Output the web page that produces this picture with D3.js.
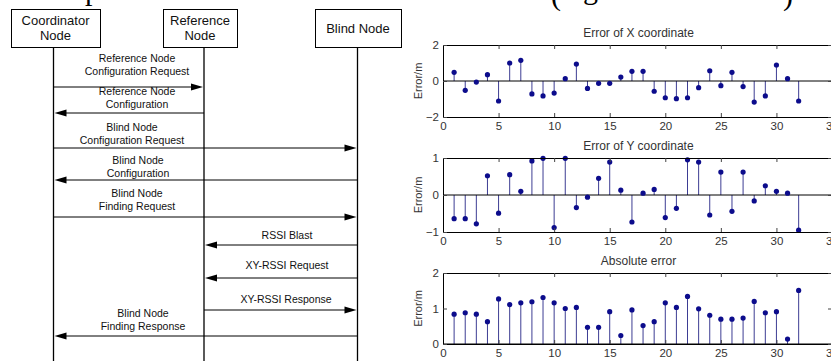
<!DOCTYPE html>
<html>
<head>
<meta charset="utf-8">
<script src="https://cdn.jsdelivr.net/npm/d3@7"></script>
<style>
  html, body { margin: 0; padding: 0; background: #fff; }
  svg { display: block; }
</style>
</head>
<body>
<div id="chart"></div>
<script>
// ---- sequence diagram data ----
const nodes = ["coord", "ref", "blind"];
const nodeLabels = [["Coordinator", "Node"], ["Reference", "Node"], ["Blind Node"]];
const msgFrom = ["coord", "ref", "coord", "blind", "coord", "blind", "blind", "ref", "blind"];
const msgTo = ["ref", "coord", "blind", "coord", "blind", "ref", "ref", "blind", "coord"];
const msgLabels = [
  ["Reference Node", "Configuration Request"],
  ["Reference Node", "Configuration"],
  ["Blind Node", "Configuration Request"],
  ["Blind Node", "Configuration"],
  ["Blind Node", "Finding Request"],
  ["RSSI Blast"],
  ["XY-RSSI Request"],
  ["XY-RSSI Response"],
  ["Blind Node", "Finding Response"]
];

// ---- stem plot data (index 1..32) ----
const xError = [0.48, -0.52, -0.06, 0.35, -1.11, 1.0, 1.15, -0.72, -0.83, -0.67, 0.13, 0.94,
  -0.41, -0.13, -0.13, 0.22, 0.54, 0.54, -0.57, -0.93, -0.98, -0.93, -0.37, 0.57,
  -0.26, 0.48, -0.31, -1.17, -0.83, 0.89, 0.13, -1.11];
const yError = [-0.64, -0.64, -0.78, 0.52, -0.49, 0.55, 0.10, 0.92, 0.99, -0.88, 0.99, -0.34,
  -0.06, 0.45, 0.89, 0.13, -0.73, 0.05, 0.15, -0.61, -0.36, 0.95, 0.89, -0.54,
  0.62, -0.44, 0.62, -0.16, 0.25, 0.10, 0.05, -0.95];
const absError = [0.84, 0.88, 0.84, 0.63, 1.27, 1.11, 1.16, 1.19, 1.31, 1.16, 1.00, 1.03,
  0.47, 0.47, 0.91, 0.24, 0.96, 0.52, 0.63, 1.16, 1.03, 1.34, 0.99, 0.81,
  0.70, 0.70, 0.73, 1.20, 0.88, 0.91, 0.14, 1.51];
const panelTitles = ["Error of X coordinate", "Error of Y coordinate", "Absolute error"];
const panelDomains = [[-2, 2], [-1, 1], [0, 2]];
const panelYTicks = [[-2, 0, 2], [-1, 0, 1], [0, 1, 2]];
const xTicks = [0, 5, 10, 15, 20, 25, 30, 35];

const W = 831, H = 361;
const svg = d3.select("#chart").append("svg").attr("width", W).attr("height", H);

// clipped line of page text above the figure (only the descenders show)
const headerGlyphs = [["p", 85, 0], ["(", 551, 5], ["g", 583, -1], [")", 783, 5]];
svg.selectAll(".hdr").data(headerGlyphs).enter().append("text")
  .attr("class", "hdr")
  .attr("x", d => d[1]).attr("y", d => d[2])
  .style("font-family", "Liberation Serif, Times New Roman, serif")
  .style("font-size", "30px")
  .attr("fill", "#000")
  .text(d => d[0]);

// ---- sequence diagram layout ----
const lifeX = { coord: 53.5, ref: 204, blind: 357.5 };
const boxes = [{ x: 11, w: 89 }, { x: 163, w: 74 }, { x: 315, w: 86 }];
const boxTop = 9, boxH = 38;
const arrowY = [87, 113, 148, 180, 217, 245, 278, 310, 336];
const labelY = [58, 91, 127, 160, 193, 235, 265, 299, 313];
const labelX = [137, 137, 132, 138, 137, 287, 287, 286, 143];

const seq = svg.append("g").attr("class", "sequence");

seq.selectAll(".life").data(nodes).enter().append("line")
  .attr("class", "life")
  .attr("x1", d => lifeX[d]).attr("x2", d => lifeX[d])
  .attr("y1", boxTop + boxH).attr("y2", H)
  .attr("stroke", "#000").attr("stroke-width", 1.3);

const nodeG = seq.selectAll(".node").data(nodes).enter().append("g").attr("class", "node");
nodeG.append("rect")
  .attr("x", (d, i) => boxes[i].x + 0.5).attr("y", boxTop + 0.5)
  .attr("width", (d, i) => boxes[i].w).attr("height", boxH)
  .attr("fill", "#fff").attr("stroke", "#000").attr("stroke-width", 1);
nodeG.each(function (d, i) {
  const lines = nodeLabels[i];
  const cx = boxes[i].x + boxes[i].w / 2;
  const y0 = lines.length === 1 ? boxTop + boxH / 2 : boxTop + 11;
  d3.select(this).selectAll("text").data(lines).enter().append("text")
    .attr("x", cx).attr("y", (t, k) => y0 + k * 15)
    .attr("dy", "0.35em")
    .attr("text-anchor", "middle")
    .style("font-family", "Arial, Liberation Sans, sans-serif")
    .style("font-size", "13px")
    .attr("fill", "#111")
    .text(t => t);
});

const msgG = seq.selectAll(".msg").data(msgLabels).enter().append("g").attr("class", "msg");
msgG.each(function (lines, i) {
  const g = d3.select(this);
  const x1 = lifeX[msgFrom[i]], x2 = lifeX[msgTo[i]];
  const dir = x2 > x1 ? 1 : -1;
  const y = arrowY[i];
  const headLen = 12, headHalf = 3.5;
  const tip = x2 - dir * 1;
  g.append("line")
    .attr("x1", x1).attr("x2", tip - dir * headLen + dir * 1)
    .attr("y1", y).attr("y2", y)
    .attr("stroke", "#000").attr("stroke-width", 1);
  g.append("path")
    .attr("d", `M${tip},${y}L${tip - dir * headLen},${y - headHalf}L${tip - dir * headLen},${y + headHalf}Z`)
    .attr("fill", "#000");
  g.selectAll("text").data(lines).enter().append("text")
    .attr("x", labelX[i]).attr("y", (t, k) => labelY[i] + k * 13)
    .attr("dy", "0.35em")
    .attr("text-anchor", "middle")
    .style("font-family", "Arial, Liberation Sans, sans-serif")
    .style("font-size", "10.5px")
    .attr("fill", "#111")
    .text(t => t);
});

// ---- stem plots ----
const plotLeft = 443, plotRight = 832;
const panelTop = [45, 158, 273];
const panelBottom = [117, 232, 344];
const panelData = [xError, yError, absError];

const x = d3.scaleLinear().domain([0, 35]).range([plotLeft, plotRight]);
const font = "Arial, Liberation Sans, sans-serif";

panelData.forEach((values, p) => {
  const y = d3.scaleLinear().domain(panelDomains[p]).range([panelBottom[p], panelTop[p]]);
  const g = svg.append("g").attr("class", "panel");

  // stems
  g.selectAll(".stem").data(values).enter().append("line")
    .attr("class", "stem")
    .attr("x1", (d, i) => x(i + 1)).attr("x2", (d, i) => x(i + 1))
    .attr("y1", y(0)).attr("y2", d => y(d))
    .attr("stroke", "#3d3d93").attr("stroke-width", 1);

  // baseline
  g.append("line")
    .attr("x1", plotLeft).attr("x2", plotRight)
    .attr("y1", y(0)).attr("y2", y(0))
    .attr("stroke", "#000").attr("stroke-width", 1);

  g.selectAll(".dot").data(values).enter().append("circle")
    .attr("class", "dot")
    .attr("cx", (d, i) => x(i + 1)).attr("cy", d => y(d))
    .attr("r", 2.6)
    .attr("fill", "#0c0c8c");

  // axes with inward ticks
  const bottom = g.append("g").attr("transform", `translate(0,${panelBottom[p]})`)
    .call(d3.axisBottom(x).tickValues(xTicks).tickFormat(d3.format("d"))
      .tickSizeInner(-4).tickSizeOuter(0).tickPadding(5));
  const top = g.append("g").attr("transform", `translate(0,${panelTop[p]})`)
    .call(d3.axisTop(x).tickValues(xTicks).tickSizeInner(-4).tickSizeOuter(0).tickFormat(""));
  const left = g.append("g").attr("transform", `translate(${plotLeft},0)`)
    .call(d3.axisLeft(y).tickValues(panelYTicks[p]).tickFormat(d3.format("d"))
      .tickSizeInner(-4).tickSizeOuter(0).tickPadding(4));
  const right = g.append("g").attr("transform", `translate(${plotRight},0)`)
    .call(d3.axisRight(y).tickValues(panelYTicks[p]).tickSizeInner(-4).tickSizeOuter(0).tickFormat(""));

  [bottom, top, left, right].forEach(a => {
    a.select(".domain").attr("stroke", "#000").attr("stroke-width", 1);
    a.selectAll(".tick line").attr("stroke", "#444");
    a.selectAll("text")
      .style("font-family", font)
      .style("font-size", "11.5px")
      .attr("fill", "#333");
  });

  g.append("text")
    .attr("x", (plotLeft + plotRight) / 2 + 1)
    .attr("y", panelTop[p] - 12)
    .attr("dy", "0.35em")
    .attr("text-anchor", "middle")
    .style("font-family", font)
    .style("font-size", "12px")
    .attr("fill", "#333")
    .text(panelTitles[p]);

  g.append("text")
    .attr("transform", `translate(418,${(panelTop[p] + panelBottom[p]) / 2}) rotate(-90)`)
    .attr("dy", "0.35em")
    .attr("text-anchor", "middle")
    .style("font-family", font)
    .style("font-size", "11px")
    .attr("fill", "#333")
    .text("Error/m");
});
</script>
</body>
</html>
